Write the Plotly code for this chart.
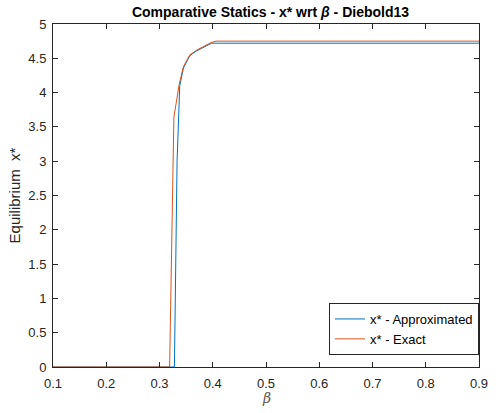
import plotly.graph_objects as go

# Data
beta_approx = [0.1, 0.2, 0.3, 0.328, 0.333, 0.338, 0.345, 0.357, 0.370, 0.385, 0.398, 0.5, 0.6, 0.7, 0.8, 0.9]
x_approx = [0, 0, 0, 0, 3.0, 4.10, 4.36, 4.54, 4.61, 4.67, 4.72, 4.72, 4.72, 4.72, 4.72, 4.72]

beta_exact = [0.1, 0.2, 0.3, 0.319, 0.327, 0.337, 0.345, 0.357, 0.370, 0.385, 0.397, 0.406, 0.5, 0.6, 0.7, 0.8, 0.9]
x_exact = [0, 0, 0, 0, 3.64, 4.12, 4.38, 4.55, 4.62, 4.68, 4.73, 4.75, 4.75, 4.75, 4.75, 4.75, 4.75]

x_ticks = [0.1, 0.2, 0.3, 0.4, 0.5, 0.6, 0.7, 0.8, 0.9]
y_ticks = [0, 0.5, 1, 1.5, 2, 2.5, 3, 3.5, 4, 4.5, 5]

fig = go.Figure()
fig.add_trace(go.Scatter(x=beta_approx, y=x_approx, mode="lines",
                         name="x* - Approximated",
                         line=dict(color="#0072BD", width=1)))
fig.add_trace(go.Scatter(x=beta_exact, y=x_exact, mode="lines",
                         name="x* - Exact",
                         line=dict(color="#D95319", width=1)))

axis_common = dict(showline=True, linecolor="#262626", linewidth=1, mirror="allticks",
                   ticks="inside", ticklen=5, tickcolor="#262626", showgrid=False,
                   zeroline=False, tickfont=dict(family="Liberation Sans, Arial", size=13, color="#262626"))

fig.update_xaxes(range=[0.1, 0.9], tickvals=x_ticks, ticktext=[str(v) for v in x_ticks],
                 ticklabelstandoff=4,
                 **axis_common)
fig.update_yaxes(range=[0, 5], tickvals=y_ticks, ticktext=[("%g" % v) for v in y_ticks],
                 ticklabelstandoff=3,
                 title=dict(text="Equilibrium  x*", font=dict(family="Liberation Sans, Arial", size=15, color="#262626"),
                            standoff=4),
                 **axis_common)

fig.add_annotation(text="<i>β</i>", xref="paper", yref="paper", x=0.5, y=-31 / 343,
                   xanchor="center", yanchor="middle", showarrow=False,
                   font=dict(family="DejaVu Serif", size=14, color="#555555"))

fig.update_layout(
    width=498, height=413,
    margin=dict(l=53, r=10, t=24, b=46),
    paper_bgcolor="white", plot_bgcolor="white",
    title=dict(text="<b>Comparative Statics - x* wrt <i>β</i> - Diebold13</b>",
               x=(53 + 488) / 2 / 498, xanchor="center", y=1 - 12 / 413, yanchor="middle",
               font=dict(family="Liberation Sans, Arial", size=14, color="black")),
    legend=dict(x=1.0, y=0.035, xanchor="right", yanchor="bottom",
                bgcolor="white", bordercolor="#262626", borderwidth=1,
                font=dict(family="Liberation Sans, Arial", size=13, color="black"),
                tracegroupgap=0),
    showlegend=True,
)

fig.write_html("out.html")
